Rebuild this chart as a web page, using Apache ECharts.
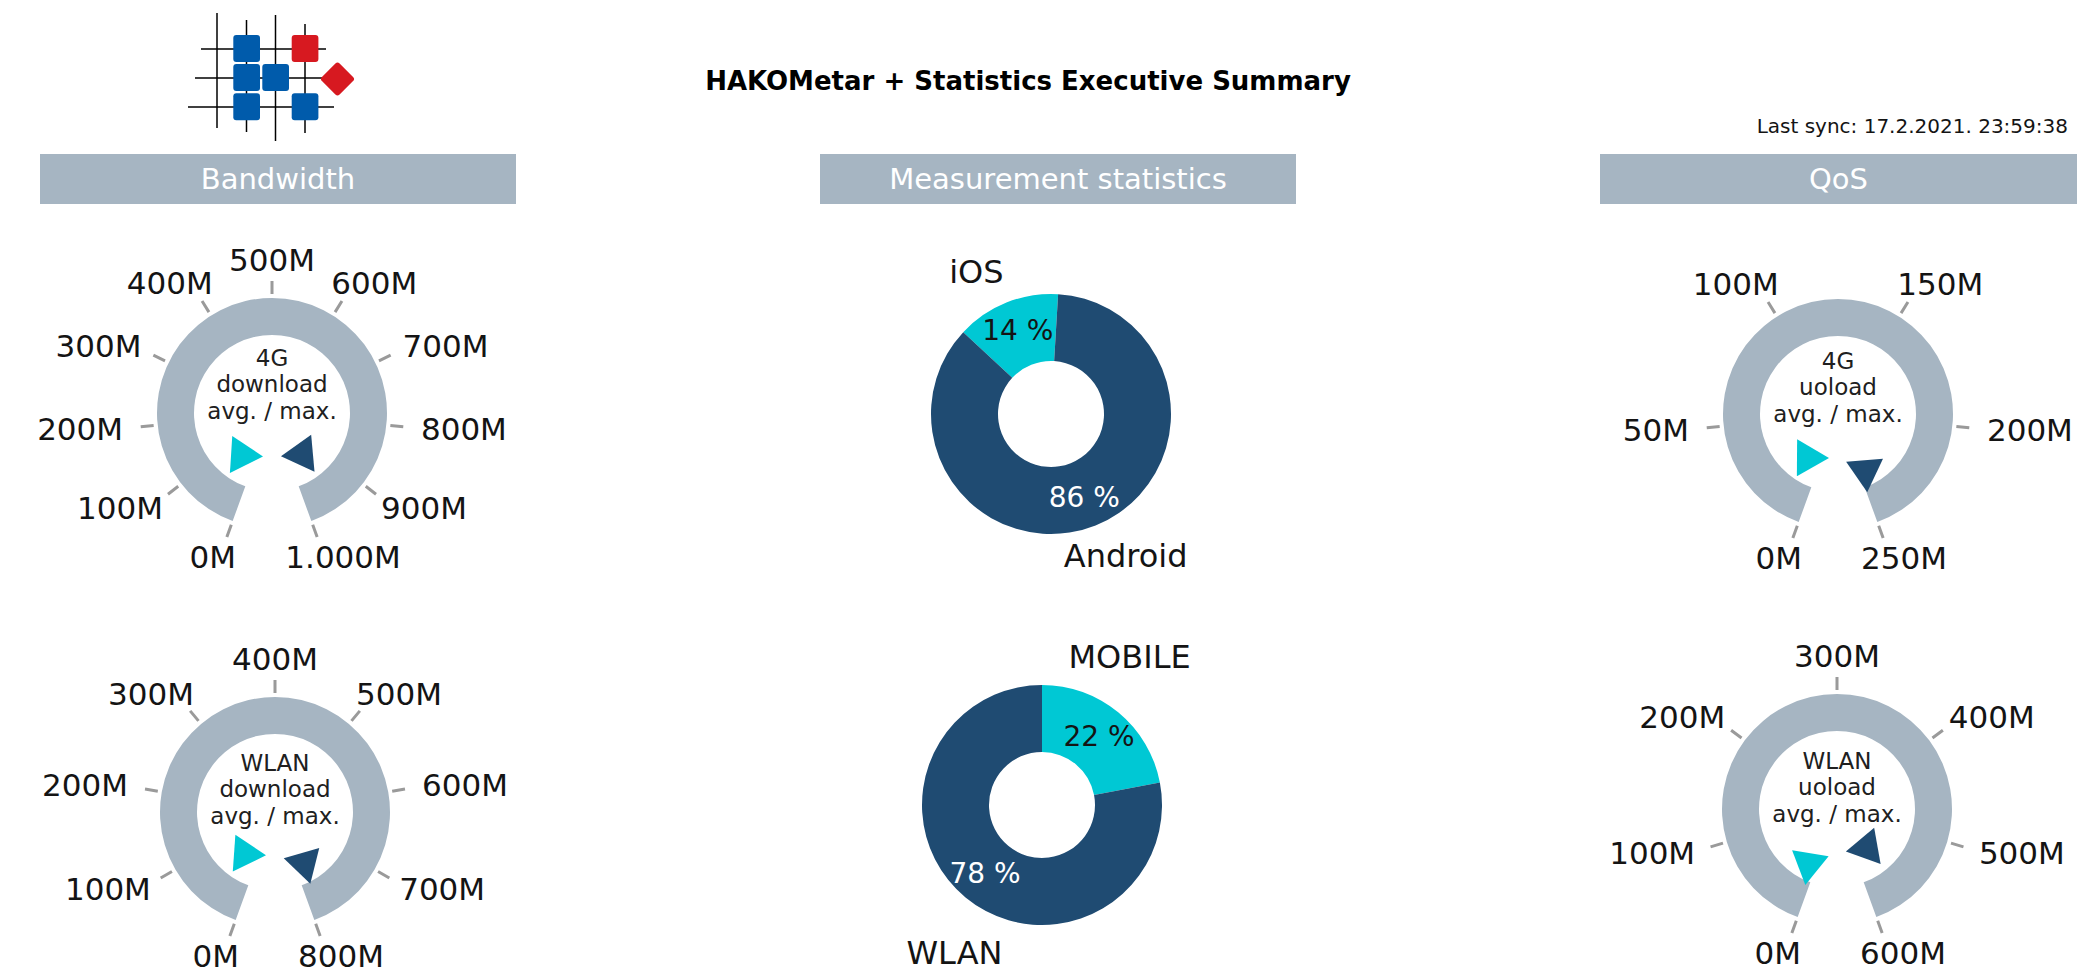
<!DOCTYPE html>
<html>
<head>
<meta charset="utf-8">
<title>HAKOMetar + Statistics Executive Summary</title>
<script src="https://cdn.jsdelivr.net/npm/echarts@6/dist/echarts.min.js"></script>
<style>
  html, body { margin: 0; padding: 0; background: #ffffff; }
  #main { width: 2095px; height: 979px; }
</style>
</head>
<body>
<div id="main"></div>
<script>
// ---- Data -----------------------------------------------------------------
// Scale ticks of each speed gauge (Mbit/s)
const dl4gTicks   = [0, 100, 200, 300, 400, 500, 600, 700, 800, 900, 1000];
const dlWlanTicks = [0, 100, 200, 300, 400, 500, 600, 700, 800];
const ul4gTicks   = [0, 50, 100, 150, 200, 250];
const ulWlanTicks = [0, 100, 200, 300, 400, 500, 600];

// Average and maximum speed shown by the two hands of each gauge
const handNames    = ['avg.', 'max.'];
const dl4gSpeed    = [230, 765];
const dlWlanSpeed  = [185, 660];
const ul4gSpeed    = [55, 215];
const ulWlanSpeed  = [92, 450];

const gaugeCaptions = [
  '4G\ndownload\navg. / max.',
  'WLAN\ndownload\navg. / max.',
  '4G\nuoload\navg. / max.',
  'WLAN\nuoload\navg. / max.'
];

// Measurement statistics (%)
const platformNames = ['iOS', 'Android'];
const platformShare = [14, 86];
const networkNames  = ['MOBILE', 'WLAN'];
const networkShare  = [22, 78];

const sectionTitles = ['Bandwidth', 'Measurement statistics', 'QoS'];
const pageTitle = 'HAKOMetar + Statistics Executive Summary';
const syncText  = 'Last sync: 17.2.2021. 23:59:38';

// ---- Style ----------------------------------------------------------------
const FONT   = 'DejaVu Sans';
const CYAN   = '#00c8d4';
const NAVY   = '#1f4b72';
const STEEL  = '#a6b5c2';
const TICK   = '#9a9a9a';
const INK    = '#141414';

const START_ANGLE = 250;
const END_ANGLE   = -70;
const RING_R      = 115;
const RING_W      = 37;
const TICK_R      = 119;
const TICK_LEN    = 13;
const LABEL_GAP_X = 31;    // horizontal reach of the label ellipse beyond the tick circle
const LABEL_GAP_Y = 23;    // vertical reach
const LABEL_HALF_H = 11.5;
const LABEL_SIZE  = 31;
const HAND_DROP   = 44;    // hands turn around a pin below the dial centre

const dials = [
  { ticks: dl4gTicks,   speed: dl4gSpeed,   caption: gaugeCaptions[0], center: [272, 413], captionY: -29 },
  { ticks: dlWlanTicks, speed: dlWlanSpeed, caption: gaugeCaptions[1], center: [275, 812], captionY: -23 },
  { ticks: ul4gTicks,   speed: ul4gSpeed,   caption: gaugeCaptions[2], center: [1838, 414], captionY: -27 },
  { ticks: ulWlanTicks, speed: ulWlanSpeed, caption: gaugeCaptions[3], center: [1837, 809], captionY: -22 }
];

// ---- Helpers --------------------------------------------------------------
const measureCtx = document.createElement('canvas').getContext('2d');
function textWidth(text, size) {
  measureCtx.font = size + 'px "' + FONT + '"';
  return measureCtx.measureText(text).width;
}
function speedLabel(v) {
  return String(v).replace(/\B(?=(\d{3})+(?!\d))/g, '.') + 'M';
}
// Scale labels sit outside the ticks; each box is pushed out by its own half size
function renderScaleLabel(params, api) {
  const v = api.value(1);
  const c = api.coord([0, v]);
  const p = api.coord([1, v]);
  const len = Math.hypot(p[0] - c[0], p[1] - c[1]) || 1;
  const ux = (p[0] - c[0]) / len;
  const uy = (p[1] - c[1]) / len;
  const text = speedLabel(v);
  const w = textWidth(text, LABEL_SIZE);
  return {
    type: 'text',
    x: c[0] + ux * (len + LABEL_GAP_X + w / 2),
    y: c[1] + uy * (len + LABEL_GAP_Y + LABEL_HALF_H),
    style: {
      text: text,
      align: 'center',
      verticalAlign: 'middle',
      fill: INK,
      fontSize: LABEL_SIZE,
      fontFamily: FONT
    }
  };
}

// ---- Gauges ---------------------------------------------------------------
const polar = [], angleAxis = [], radiusAxis = [], series = [];

dials.forEach(function (d, i) {
  const min = d.ticks[0];
  const max = d.ticks[d.ticks.length - 1];
  const step = d.ticks[1] - d.ticks[0];

  polar.push({ center: d.center, radius: TICK_R });
  angleAxis.push({
    polarIndex: i, type: 'value', min: min, max: max, interval: step,
    startAngle: START_ANGLE, endAngle: END_ANGLE, clockwise: true,
    axisLine: { show: false },
    axisTick: { show: true, length: TICK_LEN, lineStyle: { color: TICK, width: 3 } },
    axisLabel: { show: false },
    splitLine: { show: false }
  });
  radiusAxis.push({ polarIndex: i, type: 'value', min: 0, max: 1, show: false });

  // steel ring with caption
  series.push({
    type: 'gauge', silent: true,
    center: d.center, radius: RING_R,
    startAngle: START_ANGLE, endAngle: END_ANGLE, min: min, max: max,
    axisLine: { lineStyle: { width: RING_W, color: [[1, STEEL]] } },
    splitLine: { show: false }, axisTick: { show: false }, axisLabel: { show: false },
    pointer: { show: false }, anchor: { show: false }, progress: { show: false },
    title: {
      show: true, offsetCenter: [0, d.captionY],
      color: '#202020', fontSize: 23, lineHeight: 26.5, fontFamily: FONT
    },
    detail: { show: false },
    data: [{ value: min, name: d.caption }]
  });

  // scale labels
  series.push({
    type: 'custom', coordinateSystem: 'polar', polarIndex: i, silent: true,
    data: d.ticks.map(function (v) { return [1, v]; }),
    renderItem: renderScaleLabel
  });

  // avg / max hands
  series.push({
    type: 'gauge', silent: true,
    center: [d.center[0], d.center[1] + HAND_DROP], radius: 45,
    startAngle: START_ANGLE, endAngle: END_ANGLE, min: min, max: max,
    axisLine: { show: false }, splitLine: { show: false }, axisTick: { show: false },
    axisLabel: { show: false }, anchor: { show: false }, progress: { show: false },
    title: { show: false }, detail: { show: false },
    pointer: {
      show: true, icon: 'path://M0,0L2,0L1,2Z',
      length: 32, width: 37, offsetCenter: [0, -9], keepAspect: false
    },
    data: d.speed.map(function (v, k) {
      return { value: v, name: handNames[k], itemStyle: { color: k ? NAVY : CYAN } };
    })
  });
});

// ---- Donuts ---------------------------------------------------------------
function donut(center, startAngle, names, shares) {
  return {
    type: 'pie', silent: true, center: center, radius: [53, 120],
    startAngle: startAngle, clockwise: true,
    itemStyle: { borderWidth: 0 },
    label: {
      show: true, position: 'inside', formatter: '{c} %',
      fontSize: 28, fontFamily: FONT
    },
    labelLine: { show: false },
    data: names.map(function (n, k) {
      return {
        name: n, value: shares[k],
        itemStyle: { color: k ? NAVY : CYAN },
        label: { color: k ? '#ffffff' : INK }
      };
    })
  };
}
// transparent ring that only carries the category names outside the donut
function donutNames(center, startAngle, names, shares, ring) {
  return {
    type: 'pie', silent: true, center: center, radius: ring,
    startAngle: startAngle, clockwise: true,
    itemStyle: { color: 'rgba(0,0,0,0)', borderWidth: 0 },
    label: {
      show: true, position: 'inside', formatter: '{b}',
      color: INK, fontSize: 32, fontFamily: FONT
    },
    labelLine: { show: false },
    data: names.map(function (n, k) { return { name: n, value: shares[k] }; })
  };
}
series.push(donut([1051, 414], 137, platformNames, platformShare));
series.push(donutNames([1051, 414], 143, platformNames, platformShare, [150, 164]));
series.push(donut([1042, 805], 90, networkNames, networkShare));
series.push(donutNames([1042, 805], 99, networkNames, networkShare, [162, 176]));

// ---- Header, logo ---------------------------------------------------------
const logo = [];
[[217, 13, 217, 128], [246.5, 20, 246.5, 132], [275.5, 15, 275.5, 141], [305, 24, 305, 133],
 [201, 49, 326, 49], [195, 78, 322, 78], [188, 107, 334, 107]].forEach(function (l) {
  logo.push({ type: 'line', shape: { x1: l[0], y1: l[1], x2: l[2], y2: l[3] },
              style: { stroke: '#000', lineWidth: 1.5 } });
});
[[233.3, 35, '#005bab'], [291.7, 35, '#d71920'], [233.3, 64, '#005bab'],
 [262.3, 64, '#005bab'], [233.3, 93.3, '#005bab'], [291.7, 93.3, '#005bab']].forEach(function (s) {
  logo.push({ type: 'rect', shape: { x: s[0], y: s[1], width: 26.7, height: 27, r: 3 },
              style: { fill: s[2] } });
});
logo.push({ type: 'rect', x: 337.5, y: 79, rotation: Math.PI / 4,
            shape: { x: -12.5, y: -12.5, width: 25, height: 25, r: 3 },
            style: { fill: '#d71920' } });

const headers = [];
[[40, 476], [820, 476], [1600, 477]].forEach(function (b, k) {
  headers.push({ type: 'rect', shape: { x: b[0], y: 154, width: b[1], height: 50 },
                 style: { fill: STEEL } });
  headers.push({ type: 'text', x: b[0] + b[1] / 2, y: 179,
                 style: { text: sectionTitles[k], align: 'center', verticalAlign: 'middle',
                          fill: '#ffffff', fontSize: 29, fontFamily: FONT } });
});
headers.push({ type: 'text', x: 2068, y: 126,
               style: { text: syncText, align: 'right', verticalAlign: 'middle',
                        fill: INK, fontSize: 20, fontFamily: FONT } });

// ---- Chart ----------------------------------------------------------------
const chart = echarts.init(document.getElementById('main'), null,
                           { renderer: 'svg', width: 2095, height: 979 });
chart.setOption({
  animation: false,
  backgroundColor: '#ffffff',
  textStyle: { fontFamily: FONT },
  title: {
    text: pageTitle, left: 1028, top: 81, padding: 0,
    textAlign: 'center', textVerticalAlign: 'middle',
    textStyle: { fontFamily: FONT, fontWeight: 'bold', fontSize: 26, color: '#000' }
  },
  graphic: { elements: logo.concat(headers) },
  polar: polar,
  angleAxis: angleAxis,
  radiusAxis: radiusAxis,
  series: series
});
</script>
</body>
</html>
